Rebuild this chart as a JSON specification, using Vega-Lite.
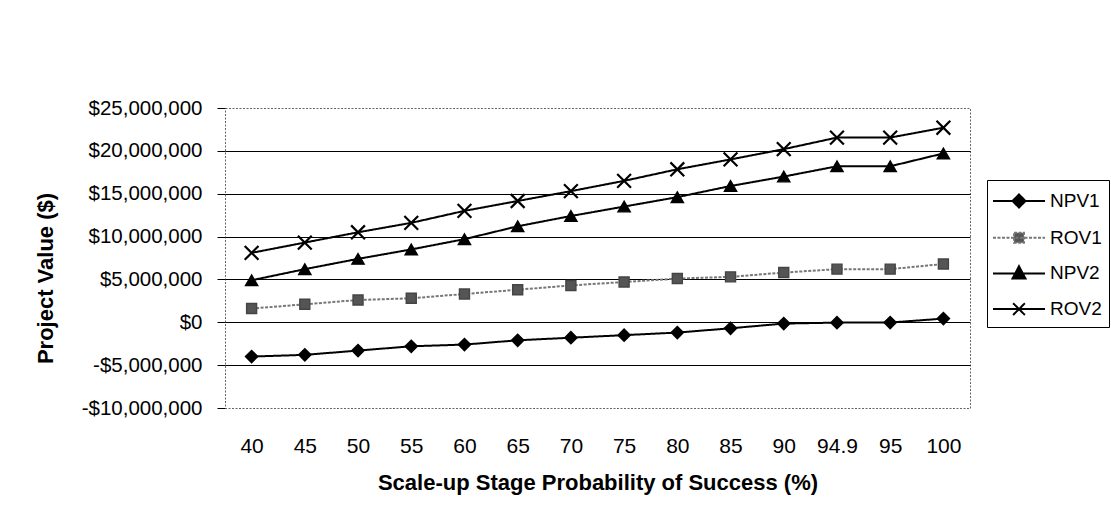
{
  "$schema": "https://vega.github.io/schema/vega-lite/v6.json",
  "autosize": {"type": "none"},
  "padding": {"left": 225, "top": 108, "right": 141, "bottom": 124},
  "width": 745,
  "height": 300,
  "background": "white",
  "data": {
    "values": [
      {"p": "40", "series": "NPV1", "v": -4000000},
      {"p": "45", "series": "NPV1", "v": -3800000},
      {"p": "50", "series": "NPV1", "v": -3300000},
      {"p": "55", "series": "NPV1", "v": -2800000},
      {"p": "60", "series": "NPV1", "v": -2600000},
      {"p": "65", "series": "NPV1", "v": -2100000},
      {"p": "70", "series": "NPV1", "v": -1800000},
      {"p": "75", "series": "NPV1", "v": -1500000},
      {"p": "80", "series": "NPV1", "v": -1200000},
      {"p": "85", "series": "NPV1", "v": -700000},
      {"p": "90", "series": "NPV1", "v": -150000},
      {"p": "94.9", "series": "NPV1", "v": -40000},
      {"p": "95", "series": "NPV1", "v": -30000},
      {"p": "100", "series": "NPV1", "v": 430000},
      {"p": "40", "series": "ROV1", "v": 1600000},
      {"p": "45", "series": "ROV1", "v": 2100000},
      {"p": "50", "series": "ROV1", "v": 2600000},
      {"p": "55", "series": "ROV1", "v": 2800000},
      {"p": "60", "series": "ROV1", "v": 3300000},
      {"p": "65", "series": "ROV1", "v": 3800000},
      {"p": "70", "series": "ROV1", "v": 4300000},
      {"p": "75", "series": "ROV1", "v": 4700000},
      {"p": "80", "series": "ROV1", "v": 5100000},
      {"p": "85", "series": "ROV1", "v": 5300000},
      {"p": "90", "series": "ROV1", "v": 5800000},
      {"p": "94.9", "series": "ROV1", "v": 6200000},
      {"p": "95", "series": "ROV1", "v": 6200000},
      {"p": "100", "series": "ROV1", "v": 6800000},
      {"p": "40", "series": "NPV2", "v": 4900000},
      {"p": "45", "series": "NPV2", "v": 6200000},
      {"p": "50", "series": "NPV2", "v": 7400000},
      {"p": "55", "series": "NPV2", "v": 8500000},
      {"p": "60", "series": "NPV2", "v": 9700000},
      {"p": "65", "series": "NPV2", "v": 11200000},
      {"p": "70", "series": "NPV2", "v": 12400000},
      {"p": "75", "series": "NPV2", "v": 13500000},
      {"p": "80", "series": "NPV2", "v": 14600000},
      {"p": "85", "series": "NPV2", "v": 15900000},
      {"p": "90", "series": "NPV2", "v": 17000000},
      {"p": "94.9", "series": "NPV2", "v": 18200000},
      {"p": "95", "series": "NPV2", "v": 18200000},
      {"p": "100", "series": "NPV2", "v": 19700000},
      {"p": "40", "series": "ROV2", "v": 8100000},
      {"p": "45", "series": "ROV2", "v": 9300000},
      {"p": "50", "series": "ROV2", "v": 10500000},
      {"p": "55", "series": "ROV2", "v": 11600000},
      {"p": "60", "series": "ROV2", "v": 13000000},
      {"p": "65", "series": "ROV2", "v": 14150000},
      {"p": "70", "series": "ROV2", "v": 15300000},
      {"p": "75", "series": "ROV2", "v": 16500000},
      {"p": "80", "series": "ROV2", "v": 17850000},
      {"p": "85", "series": "ROV2", "v": 19000000},
      {"p": "90", "series": "ROV2", "v": 20200000},
      {"p": "94.9", "series": "ROV2", "v": 21550000},
      {"p": "95", "series": "ROV2", "v": 21550000},
      {"p": "100", "series": "ROV2", "v": 22700000}
    ]
  },
  "encoding": {
    "x": {
      "field": "p",
      "type": "ordinal",
      "sort": ["40", "45", "50", "55", "60", "65", "70", "75", "80", "85", "90", "94.9", "95", "100"],
      "scale": {"type": "point", "padding": 0.5},
      "axis": {
        "title": "Scale-up Stage Probability of Success (%)",
        "labelAngle": 0,
        "labelFont": "Liberation Sans",
        "labelFontSize": 21,
        "labelColor": "black",
        "labelPadding": 27,
        "ticks": false,
        "tickSize": 0,
        "domain": false,
        "grid": false,
        "titleFont": "Liberation Sans",
        "titleFontSize": 22,
        "titleFontWeight": "bold",
        "titleColor": "black",
        "titleBaseline": "alphabetic",
        "titleY": 81
      }
    },
    "y": {
      "field": "v",
      "type": "quantitative",
      "scale": {"domain": [-10000000, 25000000], "nice": false, "zero": false},
      "axis": {
        "title": "Project Value ($)",
        "values": [-10000000, -5000000, 0, 5000000, 10000000, 15000000, 20000000, 25000000],
        "labelExpr": "(datum.value < 0 ? '-' : '') + '$' + format(abs(datum.value), ',.0f')",
        "labelFont": "Liberation Sans",
        "labelFontSize": 20.5,
        "labelColor": "black",
        "labelPadding": 15,
        "tickSize": 8,
        "tickColor": "black",
        "domain": false,
        "gridColor": "black",
        "gridWidth": 1,
        "gridOpacity": {"condition": {"test": "datum.value === 25000000 || datum.value === -10000000", "value": 0}, "value": 1},
        "titleFont": "Liberation Sans",
        "titleFontSize": 22,
        "titleFontWeight": "bold",
        "titleColor": "black",
        "titleBaseline": "alphabetic",
        "titleAlign": "center",
        "titleX": -173,
        "titleY": 170
      }
    }
  },
  "layer": [
    {
      "mark": {"type": "line", "strokeWidth": 2},
      "encoding": {
        "detail": {"field": "series", "type": "nominal"},
        "color": {
          "condition": {"test": "datum.series === 'ROV1'", "value": "#777777"},
          "value": "black"
        },
        "strokeDash": {
          "condition": {"test": "datum.series === 'ROV1'", "value": [3, 1.5]},
          "value": [1, 0]
        }
      }
    },
    {
      "mark": {"type": "point", "filled": true, "opacity": 1},
      "encoding": {
        "detail": {"field": "series", "type": "nominal"},
        "shape": {
          "condition": [
            {"test": "datum.series === 'NPV1'", "value": "diamond"},
            {"test": "datum.series === 'ROV1'", "value": "square"},
            {"test": "datum.series === 'NPV2'", "value": "triangle-up"}
          ],
          "value": "M-1,-1L1,1M-1,1L1,-1"
        },
        "fill": {
          "condition": {"test": "datum.series === 'ROV1'", "value": "#555555"},
          "value": "black"
        },
        "stroke": {
          "condition": {"test": "datum.series === 'ROV1'", "value": "#444444"},
          "value": "black"
        },
        "strokeWidth": {
          "condition": {"test": "datum.series === 'ROV2'", "value": 2.2},
          "value": 1.4
        },
        "size": {
          "condition": [
            {"test": "datum.series === 'ROV2'", "value": 190},
            {"test": "datum.series === 'ROV1'", "value": 100}
          ],
          "value": 150
        }
      }
    },
    {
      "transform": [{"filter": "false"}],
      "mark": {"type": "point", "filled": true, "opacity": 1, "strokeWidth": 2},
      "encoding": {
        "shape": {
          "field": "series",
          "type": "nominal",
          "scale": {
            "domain": ["NPV1", "ROV1", "NPV2", "ROV2"],
            "range": [
              "M-2,0H2M0,-0.5L0.5,0L0,0.5L-0.5,0Z",
              "M-2,0H2M-0.38,-0.38H0.38V0.38H-0.38Z",
              "M-2,0H2M0,-0.55L0.5,0.4H-0.5Z",
              "M-2,0H2M-0.45,-0.45L0.45,0.45M-0.45,0.45L0.45,-0.45"
            ]
          },
          "legend": {"title": null}
        },
        "fill": {
          "field": "series",
          "type": "nominal",
          "scale": {"domain": ["NPV1", "ROV1", "NPV2", "ROV2"], "range": ["black", "#555555", "black", "black"]},
          "legend": {"title": null}
        },
        "stroke": {
          "field": "series",
          "type": "nominal",
          "scale": {"domain": ["NPV1", "ROV1", "NPV2", "ROV2"], "range": ["black", "#777777", "black", "black"]},
          "legend": {"title": null}
        },
        "strokeDash": {
          "field": "series",
          "type": "nominal",
          "scale": {"domain": ["NPV1", "ROV1", "NPV2", "ROV2"], "range": [[1, 0], [3, 1.5], [1, 0], [1, 0]]},
          "legend": {"title": null}
        }
      }
    }
  ],
  "config": {
    "view": {"stroke": "#666666", "strokeDash": [2, 1.5], "strokeWidth": 1},
    "font": "Liberation Sans",
    "legend": {
      "orient": "none",
      "legendX": 762,
      "legendY": 72,
      "direction": "vertical",
      "padding": 7,
      "strokeColor": "black",
      "fillColor": "white",
      "symbolSize": 676,
      "symbolOffset": 11,
      "symbolStrokeWidth": 2,
      "labelOffset": 17,
      "rowPadding": 11.7,
      "labelFont": "Liberation Sans",
      "labelFontSize": 19,
      "labelColor": "black"
    }
  }
}
